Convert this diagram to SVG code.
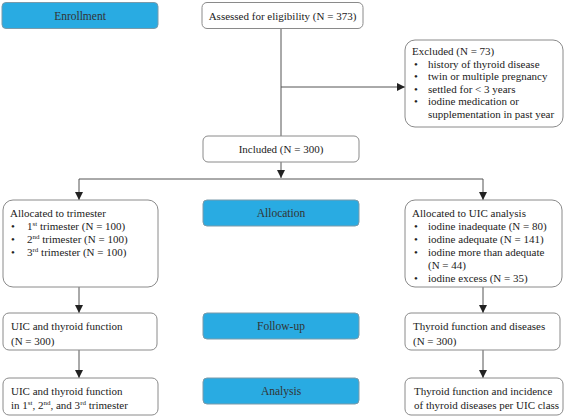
<svg xmlns="http://www.w3.org/2000/svg" width="565" height="418" viewBox="0 0 565 418">
<style>
text{font-family:"Liberation Serif","Times New Roman",serif;font-size:11px;fill:#222}
.box{fill:#fff;stroke:#8a8a8a;stroke-width:1}
.stage{fill:#29abe2;stroke:#7a9aaa;stroke-width:1}
.stage-t{fill:#333;text-anchor:middle;font-size:11.5px}
.c{text-anchor:middle}
.ln{stroke:#555;stroke-width:1;fill:none}
.sup{font-size:7px}
</style>
<defs>
<marker id="ah" viewBox="0 0 10 10" refX="10" refY="5" markerWidth="8" markerHeight="8" markerUnits="userSpaceOnUse" orient="auto">
<path d="M0,0 L10,5 L0,10 z" fill="#222"/>
</marker>
</defs>
<rect width="565" height="418" fill="#fff"/>
<g id="connectors">
<line class="ln" x1="281" y1="28" x2="281" y2="136"/>
<line class="ln" x1="281" y1="87" x2="405" y2="87" marker-end="url(#ah)"/>
<line class="ln" x1="281" y1="162" x2="281" y2="178" marker-end="url(#ah)"/>
<line class="ln" x1="79" y1="179" x2="483" y2="179"/>
<line class="ln" x1="79" y1="179" x2="79" y2="200" marker-end="url(#ah)"/>
<line class="ln" x1="483" y1="179" x2="483" y2="200" marker-end="url(#ah)"/>
<line class="ln" x1="79" y1="287" x2="79" y2="313" marker-end="url(#ah)"/>
<line class="ln" x1="483" y1="287" x2="483" y2="313" marker-end="url(#ah)"/>
<line class="ln" x1="79" y1="350" x2="79" y2="378" marker-end="url(#ah)"/>
<line class="ln" x1="483" y1="350" x2="483" y2="378" marker-end="url(#ah)"/>
</g>
<g id="enrollment"><rect class="stage" x="2" y="2.5" width="156" height="26" rx="4"/><text class="stage-t" x="80" y="19.5">Enrollment</text></g>
<g id="assessed"><rect class="box" x="202" y="2.5" width="161" height="26" rx="5"/><text class="c" x="282.5" y="19.5">Assessed for eligibility (N = 373)</text></g>
<g id="excluded"><rect class="box" x="405" y="40" width="158" height="87" rx="10"/>
<text x="412" y="55">Excluded (N = 73)</text>
<text x="414" y="67.5">•</text><text x="428" y="67.5">history of thyroid disease</text>
<text x="414" y="80">•</text><text x="428" y="80">twin or multiple pregnancy</text>
<text x="414" y="92.5">•</text><text x="428" y="92.5">settled for &lt; 3 years</text>
<text x="414" y="105">•</text><text x="428" y="105">iodine medication or</text>
<text x="428" y="117.5">supplementation in past year</text>
</g>
<g id="included"><rect class="box" x="203" y="136" width="156" height="26" rx="5"/><text class="c" x="281" y="153">Included (N = 300)</text></g>
<g id="allocated-trimester"><rect class="box" x="3" y="200" width="155" height="87" rx="10"/>
<text x="10" y="217">Allocated to trimester</text>
<text x="11" y="230">•</text><text x="27" y="230">1<tspan class="sup" dy="-4">st</tspan><tspan dy="4"> trimester (N = 100)</tspan></text>
<text x="11" y="243">•</text><text x="27" y="243">2<tspan class="sup" dy="-4">nd</tspan><tspan dy="4"> trimester (N = 100)</tspan></text>
<text x="11" y="256">•</text><text x="27" y="256">3<tspan class="sup" dy="-4">rd</tspan><tspan dy="4"> trimester (N = 100)</tspan></text>
</g>
<g id="allocation"><rect class="stage" x="203" y="200" width="156" height="26" rx="4"/><text class="stage-t" x="281" y="217">Allocation</text></g>
<g id="allocated-uic"><rect class="box" x="405" y="200" width="157" height="87" rx="10"/>
<text x="412" y="217">Allocated to UIC analysis</text>
<text x="414" y="230">•</text><text x="428" y="230">iodine inadequate (N = 80)</text>
<text x="414" y="243">•</text><text x="428" y="243">iodine adequate (N = 141)</text>
<text x="414" y="256">•</text><text x="428" y="256">iodine more than adequate</text>
<text x="428" y="269">(N = 44)</text>
<text x="414" y="282">•</text><text x="428" y="282">iodine excess (N = 35)</text>
</g>
<g id="followup-left"><rect class="box" x="3" y="313" width="154" height="37" rx="6"/>
<text x="11" y="330">UIC and thyroid function</text><text x="11" y="345">(N = 300)</text></g>
<g id="followup"><rect class="stage" x="203" y="313" width="156" height="26" rx="4"/><text class="stage-t" x="281" y="330">Follow-up</text></g>
<g id="followup-right"><rect class="box" x="405" y="313" width="155" height="37" rx="6"/>
<text x="413" y="330">Thyroid function and diseases</text><text x="413" y="345">(N = 300)</text></g>
<g id="analysis-left"><rect class="box" x="3" y="378" width="155" height="37" rx="6"/>
<text x="11" y="395">UIC and thyroid function</text>
<text x="11" y="409">in 1<tspan class="sup" dy="-4">st</tspan><tspan dy="4">, 2</tspan><tspan class="sup" dy="-4">nd</tspan><tspan dy="4">, and 3</tspan><tspan class="sup" dy="-4">rd</tspan><tspan dy="4"> trimester</tspan></text></g>
<g id="analysis"><rect class="stage" x="203" y="378" width="156" height="26" rx="4"/><text class="stage-t" x="281" y="395">Analysis</text></g>
<g id="analysis-right"><rect class="box" x="405" y="378" width="158" height="37" rx="6"/>
<text x="414" y="395">Thyroid function and incidence</text><text x="414" y="409">of thyroid diseases per UIC class</text></g>
</svg>
